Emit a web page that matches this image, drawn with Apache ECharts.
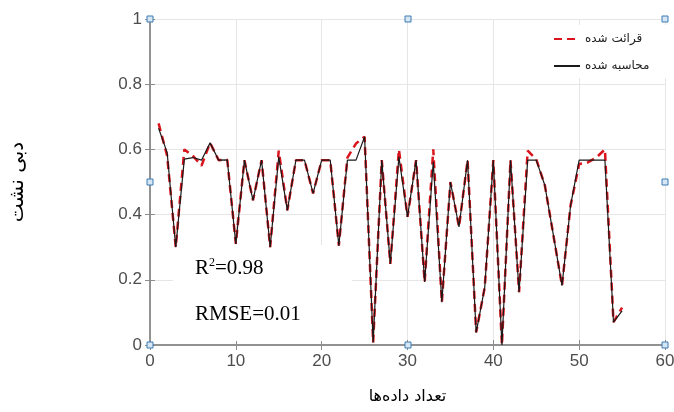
<!DOCTYPE html>
<html>
<head>
<meta charset="utf-8">
<script src="https://cdn.jsdelivr.net/npm/echarts@6/dist/echarts.min.js"></script>
<style>
  html, body { margin: 0; padding: 0; background: #fff; }
  #chart { width: 674px; height: 412px; }
</style>
</head>
<body>
<div id="chart"></div>
<script>
  // شماره داده‌ها
  const sampleNo = [1, 2, 3, 4, 5, 6, 7, 8, 9, 10, 11, 12, 13, 14, 15, 16, 17, 18, 19, 20,
    21, 22, 23, 24, 25, 26, 27, 28, 29, 30, 31, 32, 33, 34, 35, 36, 37, 38, 39, 40,
    41, 42, 43, 44, 45, 46, 47, 48, 49, 50, 51, 52, 53, 54, 55]
  // قرائت شده (red dashed)
  const measured = [0.68, 0.58, 0.30, 0.60, 0.58, 0.55, 0.62, 0.567, 0.568, 0.31,
    0.567, 0.444, 0.567, 0.30, 0.596, 0.413, 0.567, 0.567, 0.465, 0.567,
    0.567, 0.305, 0.575, 0.618, 0.639, 0.008, 0.567, 0.249, 0.60, 0.393,
    0.567, 0.193, 0.60, 0.131, 0.50, 0.362, 0.567, 0.039, 0.177, 0.567,
    0.0, 0.567, 0.162, 0.596, 0.57, 0.49, 0.336, 0.182, 0.428, 0.555,
    0.56, 0.575, 0.60, 0.07, 0.115]
  // محاسبه شده (black)
  const computed = [0.665, 0.59, 0.30, 0.57, 0.575, 0.567, 0.62, 0.567, 0.568, 0.31,
    0.567, 0.444, 0.567, 0.30, 0.577, 0.413, 0.567, 0.567, 0.465, 0.567,
    0.567, 0.305, 0.567, 0.567, 0.639, 0.008, 0.567, 0.249, 0.577, 0.393,
    0.567, 0.193, 0.562, 0.131, 0.50, 0.362, 0.567, 0.038, 0.177, 0.567,
    0.0, 0.567, 0.162, 0.567, 0.567, 0.49, 0.336, 0.182, 0.428, 0.567,
    0.567, 0.567, 0.567, 0.07, 0.105]
  const xTicks = [0, 10, 20, 30, 40, 50, 60]
  const yTicks = [0, 0.2, 0.4, 0.6, 0.8, 1]

  const chart = echarts.init(document.getElementById('chart'))
  const axisGray = '#8c8c8c'
  const gridGray = '#e6e6e6'
  const labelStyle = { color: '#4d4d4d', fontSize: 17, fontFamily: 'Liberation Sans' }

  // little blue handles round the picture frame
  const handlePos = [[150, 19], [408, 19], [665, 19], [150, 182], [665, 182], [150, 345], [408, 345], [665, 345]]
  const handles = handlePos.map(p => ({
    type: 'rect',
    z: 100,
    shape: { x: p[0] - 3, y: p[1] - 3, width: 6, height: 6 },
    style: { fill: '#d6e6f4', stroke: '#3b7bb3', lineWidth: 1 }
  }))

  chart.setOption({
    animation: false,
    grid: { left: 150, right: 9, top: 19, bottom: 67, outerBoundsMode: 'none', containLabel: false },
    legend: {
      orient: 'vertical',
      left: 545,
      top: 25,
      padding: [8, 20, 6, 8],
      backgroundColor: '#fff',
      itemWidth: 26,
      itemHeight: 12,
      itemGap: 15,
      itemStyle: { opacity: 0 },
      textStyle: { fontFamily: 'DejaVu Sans', fontSize: 12, color: '#222' },
      data: ['قرائت شده', 'محاسبه شده']
    },
    xAxis: [
      {
        type: 'value', min: 0, max: 60, interval: 10, position: 'bottom',
        name: 'تعداد داده‌ها', nameLocation: 'middle', nameGap: 44,
        nameTextStyle: { fontFamily: 'DejaVu Sans', fontSize: 16, color: '#000' },
        axisLine: { show: true, lineStyle: { color: axisGray, width: 1.5 } },
        axisTick: { show: true, inside: true, length: 5, lineStyle: { color: axisGray } },
        axisLabel: Object.assign({ margin: 8, formatter: v => xTicks.includes(v) ? String(v) : '' }, labelStyle),
        splitLine: { show: true, lineStyle: { color: gridGray } }
      },
      {
        type: 'value', min: 0, max: 60, interval: 10, position: 'top',
        axisLine: { show: true, lineStyle: { color: axisGray, width: 1.5 } },
        axisTick: { show: true, inside: true, length: 5, lineStyle: { color: axisGray } },
        axisLabel: { show: false },
        splitLine: { show: false }
      }
    ],
    yAxis: [
      {
        type: 'value', min: 0, max: 1, interval: 0.2, position: 'left',
        name: 'دبی نشت', nameLocation: 'middle', nameGap: 122, nameRotate: 90,
        nameTextStyle: { fontFamily: 'DejaVu Sans', fontSize: 20, color: '#000' },
        axisLine: { show: true, lineStyle: { color: axisGray, width: 1.5 } },
        axisTick: { show: true, inside: true, length: 5, lineStyle: { color: axisGray } },
        axisLabel: Object.assign({ margin: 8, formatter: v => yTicks.includes(+v.toFixed(1)) ? String(+v.toFixed(1)) : '' }, labelStyle),
        splitLine: { show: true, lineStyle: { color: gridGray } }
      },
      {
        type: 'value', min: 0, max: 1, interval: 0.2, position: 'right',
        axisLine: { show: true, lineStyle: { color: axisGray, width: 1.5 } },
        axisTick: { show: true, inside: true, length: 5, lineStyle: { color: axisGray } },
        axisLabel: { show: false },
        splitLine: { show: false }
      }
    ],
    graphic: [
      // white box behind the fit statistics
      {
        type: 'rect', z: 1,
        shape: { x: 173, y: 245, width: 179, height: 96 },
        style: { fill: '#fff' }
      },
      {
        type: 'text', z: 10, left: 195, top: 257,
        style: {
          text: '{a|R}{s|2}{a|=0.98}',
          rich: {
            a: { fontFamily: 'Liberation Serif', fontSize: 21, fill: '#000' },
            s: { fontFamily: 'Liberation Serif', fontSize: 12, fill: '#000', verticalAlign: 'top', padding: [0, 0, 10, 0] }
          }
        }
      },
      {
        type: 'text', z: 10, left: 195, top: 304,
        style: { text: 'RMSE=0.01', fontFamily: 'Liberation Serif', fontSize: 21, fill: '#000' }
      }
    ].concat(handles),
    series: [
      {
        name: 'قرائت شده',
        type: 'line',
        symbol: 'none',
        z: 3,
        lineStyle: { color: '#d9141c', width: 2.5, type: [8, 5] },
        itemStyle: { color: '#d9141c' },
        data: sampleNo.map((x, i) => [x, measured[i]])
      },
      {
        name: 'محاسبه شده',
        type: 'line',
        symbol: 'none',
        z: 4,
        lineStyle: { color: '#1a1a1a', width: 1.2 },
        itemStyle: { color: '#1a1a1a' },
        data: sampleNo.map((x, i) => [x, computed[i]])
      }
    ]
  })
</script>
</body>
</html>
